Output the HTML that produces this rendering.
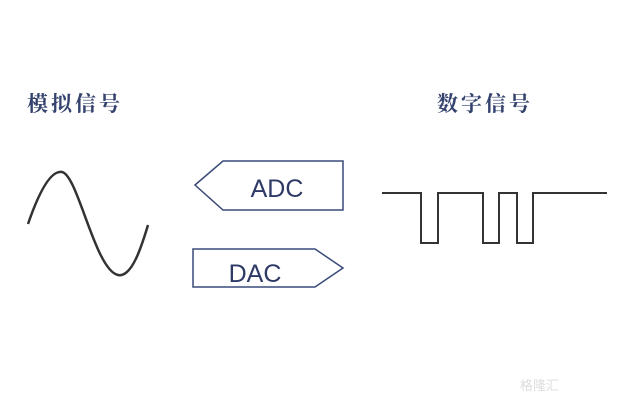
<!DOCTYPE html>
<html><head><meta charset="utf-8"><style>
html,body{margin:0;padding:0;background:#fff;}
</style></head><body>
<svg width="625" height="409" xmlns="http://www.w3.org/2000/svg">
<rect width="625" height="409" fill="#fff"/>
<text x="27" y="111" font-family="Liberation Serif, Noto Serif CJK SC, serif" font-size="21" font-weight="bold" fill="#34426e" letter-spacing="3">模拟信号</text>
<text x="437" y="111" font-family="Liberation Serif, Noto Serif CJK SC, serif" font-size="21" font-weight="bold" fill="#34426e" letter-spacing="3">数字信号</text>
<path d="M28,224 C38,195 50,170 62,172 C78,175 95,270 118,275 C132,278 142,245 148,225" fill="none" stroke="#333" stroke-width="2.5"/>
<path d="M382,193 H421 V243 H438 V193 H483 V243 H499 V193 H517 V243 H533 V193 H607" fill="none" stroke="#333" stroke-width="2"/>
<polygon points="195,185 223,161 343,161 343,210 223,210" fill="#fff" stroke="#3a4a78" stroke-width="1.5"/>
<text x="277" y="197" text-anchor="middle" font-family="Liberation Sans, sans-serif" font-size="25" fill="#2d3a66">ADC</text>
<polygon points="193,249 315,249 343,268 315,287 193,287" fill="#fff" stroke="#3a4a78" stroke-width="1.5"/>
<text x="255" y="282" text-anchor="middle" font-family="Liberation Sans, sans-serif" font-size="25" fill="#2d3a66">DAC</text>
<text x="520" y="390" font-family="Liberation Sans, Noto Sans CJK SC, sans-serif" font-size="13" fill="#ddd">格隆汇</text>
</svg>
</body></html>
